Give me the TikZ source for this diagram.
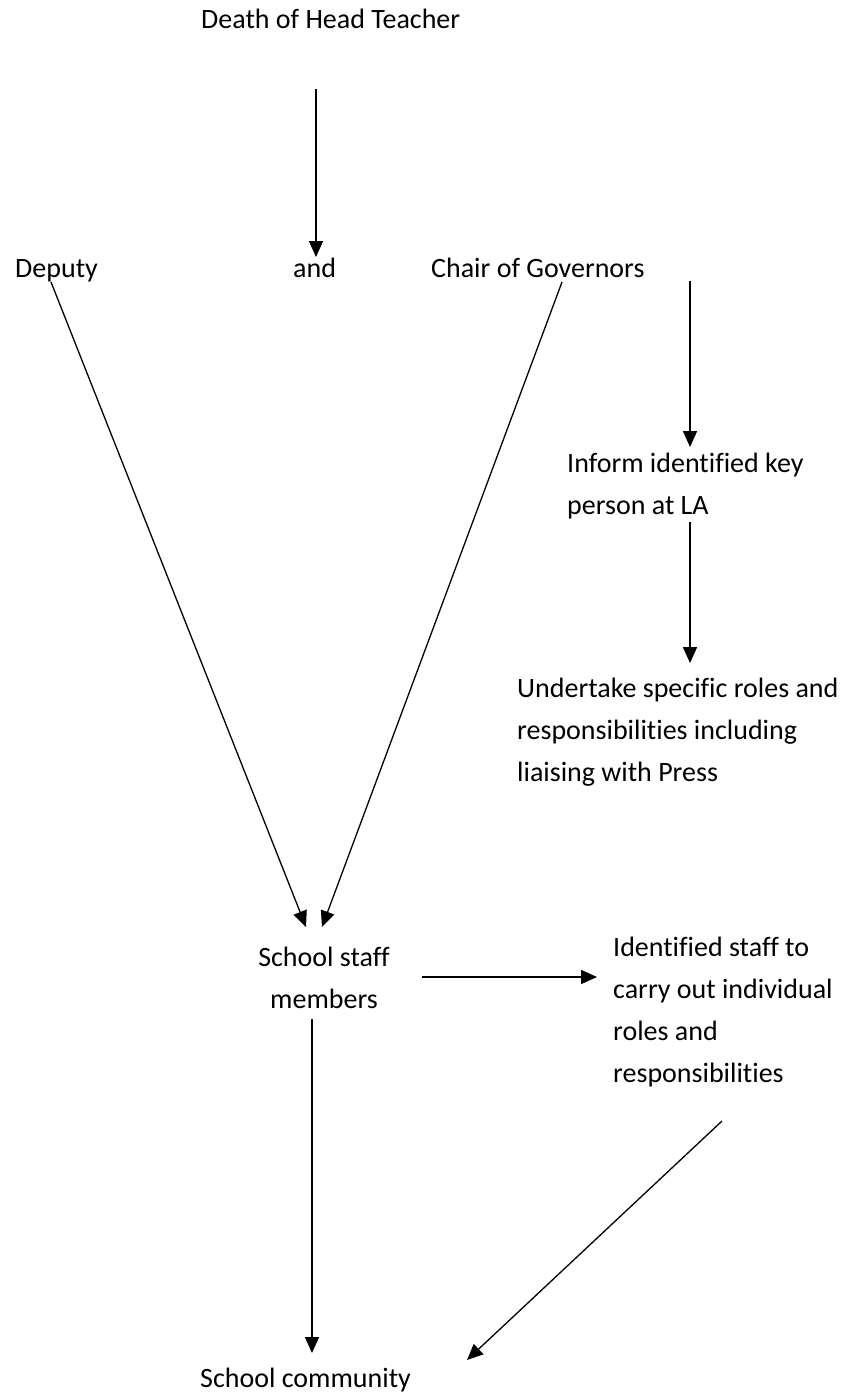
\documentclass[tikz,border=0pt]{standalone}
\usepackage{fontspec}
\setmainfont[Ligatures=NoCommon]{Carlito}
\usetikzlibrary{arrows.meta}

\begin{document}
\begin{tikzpicture}[x=1pt, y=-1pt]
    \tikzstyle{txt} = [inner sep=0pt, anchor=base west, align=left, font=\fontsize{28}{42}\selectfont]
    \tikzstyle{arr} = [-{Triangle[length=16pt, width=14pt]}, line width=1.7pt]
    \useasboundingbox (0,0) rectangle (844,1397);

    % texts (base = last line)
    \node (death)   [txt] at (201,29)   {Death of Head Teacher};
    \node (deputy)  [txt] at (15,277)   {Deputy};
    \node (and)     [txt] at (293,277)  {and};
    \node (chair)   [txt] at (431,277)  {Chair of Governors};
    \node (inform)  [txt] at (567,514)  {Inform identified key\\person at LA};
    \node (roles)   [txt] at (517,781)  {Undertake specific roles and\\responsibilities including\\liaising with Press};
    \node (staff)   [txt, anchor=base, align=center] at (324,1008) {School staff\\members};
    \node (ident)   [txt] at (613,1082) {Identified staff to\\carry out individual\\roles and\\responsibilities};
    \node (comm)    [txt] at (200,1387) {School community};

    % arrow ends
    \coordinate (d1) at (316,89);    \coordinate (d2) at (316,257);
    \coordinate (p1) at (51,282);    \coordinate (p2) at (306,927);
    \coordinate (c1) at (562,282);   \coordinate (c2) at (322,927);
    \coordinate (g1) at (690,281);   \coordinate (g2) at (690,447);
    \coordinate (i1) at (690,522);   \coordinate (i2) at (690,663);
    \coordinate (s1) at (422,977);   \coordinate (s2) at (597,977);
    \coordinate (s3) at (312,1019);  \coordinate (s4) at (312,1353);
    \coordinate (r1) at (722,1121);  \coordinate (r2) at (467,1360);

    \draw [arr] (d1) -- (d2);
    \draw [arr, line width=1.3pt] (p1) -- (p2);
    \draw [arr, line width=1.3pt] (c1) -- (c2);
    \draw [arr] (g1) -- (g2);
    \draw [arr] (i1) -- (i2);
    \draw [arr] (s1) -- (s2);
    \draw [arr] (s3) -- (s4);
    \draw [arr, line width=1.3pt] (r1) -- (r2);
\end{tikzpicture}
\end{document}
